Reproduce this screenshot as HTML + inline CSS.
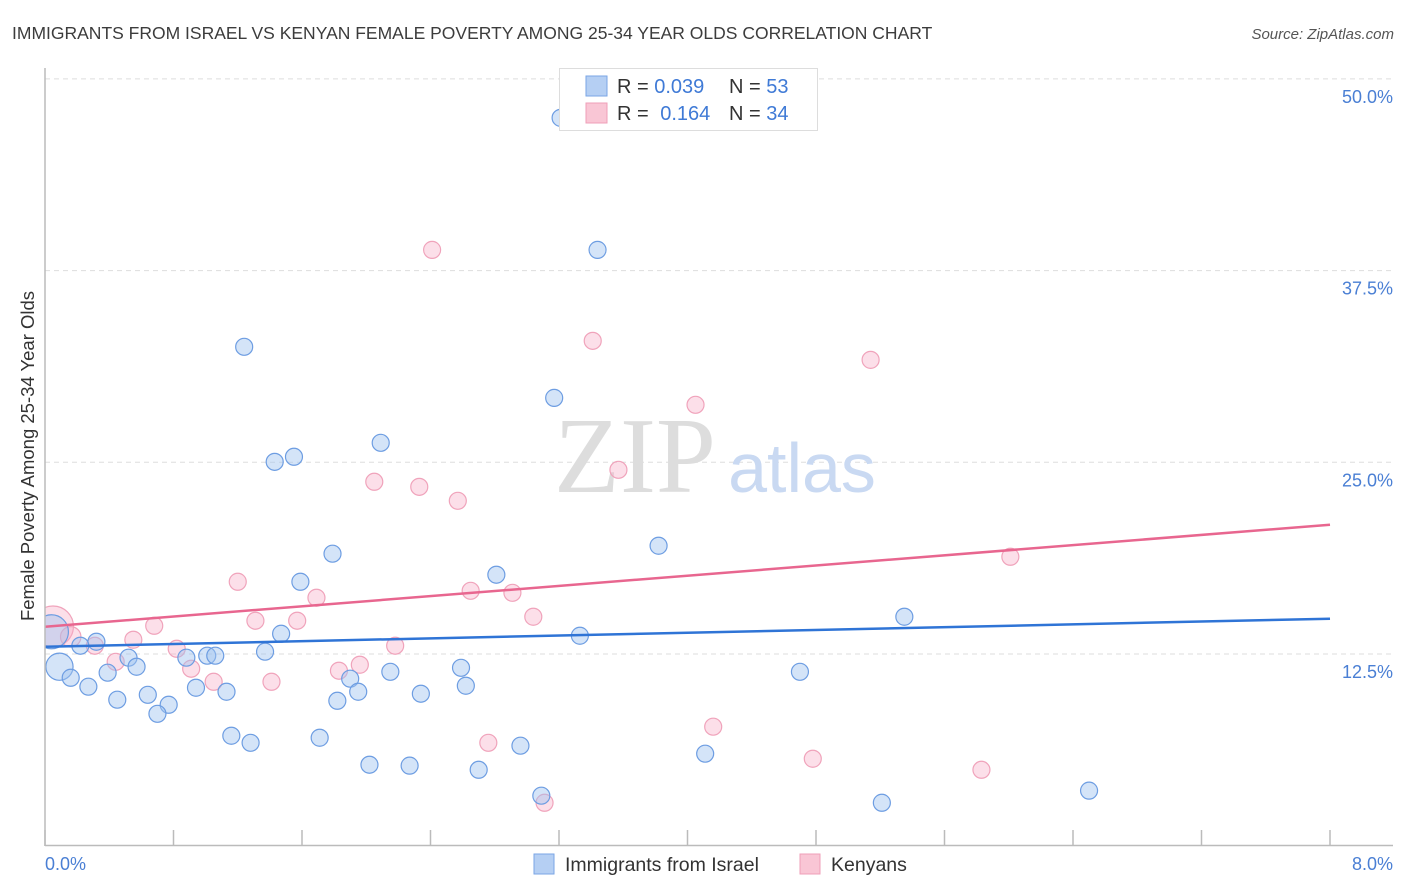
<!DOCTYPE html>
<html><head><meta charset="utf-8"><style>
body{margin:0;background:#fff;font-family:"Liberation Sans",sans-serif;}
svg{display:block}
</style></head><body>
<svg id="chart" width="1406" height="892">
<defs><clipPath id="plotclip"><rect x="45" y="60" width="1360" height="786"/></clipPath></defs>
<text x="12" y="39" font-size="17.5" fill="#3c3c3c">IMMIGRANTS FROM ISRAEL VS KENYAN FEMALE POVERTY AMONG 25-34 YEAR OLDS CORRELATION CHART</text>
<text x="1394" y="39" font-size="15" fill="#555" text-anchor="end" font-style="italic">Source: ZipAtlas.com</text>
<g id="grid"></g>
<text x="635" y="492" font-size="108" font-family="Liberation Serif,serif" fill="#ddd" text-anchor="middle">ZIP</text>
<text x="802" y="492" font-size="70" fill="#c9d9f2" text-anchor="middle">atlas</text>
<g id="xticks"></g>
<g id="yticks"></g>
<g id="pts" clip-path="url(#plotclip)"></g>
<g id="trends"></g>
<line x1="45" y1="68" x2="45" y2="846" stroke="#bbb" stroke-width="1.5"/>
<line x1="45" y1="845.5" x2="1393" y2="845.5" stroke="#bbb" stroke-width="1.5"/>
<text x="34" y="456" font-size="18.5" fill="#333" text-anchor="middle" transform="rotate(-90 34 456)">Female Poverty Among 25-34 Year Olds</text>
<text x="45" y="870" font-size="18" fill="#4a7fd4">0.0%</text>
<text x="1393" y="870" font-size="18" fill="#4a7fd4" text-anchor="end">8.0%</text>
<g>
<rect x="559.5" y="68.5" width="258" height="62" fill="#fff" stroke="#ddd"/>
<rect x="586" y="76" width="21" height="20" fill="#b5cff3" stroke="#7aa6e6"/>
<rect x="586" y="103" width="21" height="20" fill="#f9c6d5" stroke="#ef9fb8"/>
<text x="617" y="93" font-size="20" fill="#333">R = <tspan fill="#3f7ad6">0.039</tspan></text>
<text x="729" y="93" font-size="20" fill="#333">N = <tspan fill="#3f7ad6">53</tspan></text>
<text x="617" y="120" font-size="20" fill="#333">R = <tspan fill="#3f7ad6" dx="6">0.164</tspan></text>
<text x="729" y="120" font-size="20" fill="#333">N = <tspan fill="#3f7ad6">34</tspan></text>
</g>
<g>
<rect x="534" y="854" width="20" height="20" fill="#b5cff3" stroke="#7aa6e6"/>
<text x="565" y="871" font-size="19.5" fill="#333">Immigrants from Israel</text>
<rect x="800" y="854" width="20" height="20" fill="#f9c6d5" stroke="#ef9fb8"/>
<text x="831" y="871" font-size="19.5" fill="#333">Kenyans</text>
</g>
</svg>
<script>
const blueX=[3.21,3.44,1.24,3.17,2.09,1.55,1.43,3.82,1.79,2.81,1.59,5.35,3.33,1.47,0.32,0.22,1.37,0.88,1.01,1.06,0.52,0.57,0.09,0.39,0.16,2.59,2.15,4.70,1.90,0.27,0.94,2.62,1.95,0.64,1.13,2.34,0.45,1.82,0.77,0.70,1.16,1.71,1.28,2.96,4.11,2.02,2.27,2.70,3.09,5.21,6.50,0.04];
const blueY=[47.46,38.85,32.53,29.2,26.27,25.36,25.03,19.56,19.04,17.67,17.21,14.93,13.69,13.82,13.3,13.04,12.65,12.26,12.39,12.39,12.26,11.67,11.67,11.28,10.95,11.6,11.34,11.34,10.89,10.37,10.3,10.43,10.04,9.84,10.04,9.91,9.52,9.45,9.19,8.6,7.17,7.04,6.71,6.52,6.0,5.28,5.22,4.95,3.26,2.8,3.59,13.95];
const blueW=[1,1,1,1,1,1,1,1,1,1,1,1,1,1,1,1,1,1,1,1,1,1,1.6,1,1,1,1,1,1,1,1,1,1,1,1,1,1,1,1,1,1,1,1,1,1,1,1,1,1,1,1,2];
const pinkX=[2.41,3.41,5.14,4.05,2.05,3.57,2.33,2.57,6.01,1.20,2.65,1.69,2.91,0.68,1.31,1.57,3.04,0.55,0.82,0.31,2.18,0.44,0.91,1.96,1.83,1.41,1.05,4.16,2.76,4.78,5.83,3.11,0.05,0.16];
const pinkY=[38.85,32.92,31.68,28.75,23.73,24.51,23.4,22.49,18.84,17.21,16.62,16.17,16.49,14.34,14.67,14.67,14.93,13.43,12.84,13.04,13.04,11.99,11.54,11.8,11.41,10.69,10.69,7.76,6.71,5.67,4.95,2.8,14.3,13.62];
const pinkW=[1,1,1,1,1,1,1,1,1,1,1,1,1,1,1,1,1,1,1,1,1,1,1,1,1,1,1,1,1,1,1,1,2.4,1.2];
const blueTrend=[12.97,14.8];
const pinkTrend=[14.28,20.93];
const yTicks=[12.5,25,37.5,50];
const yTickLabels=["12.5%","25.0%","37.5%","50.0%"];
const xTicks=[0,0.8,1.6,2.4,3.2,4.0,4.8,5.6,6.4,7.2,8.0];
const NS="http://www.w3.org/2000/svg";
const sx=v=>45+v*(1285/8);
const sy=v=>845.7-v*(766.8/50);
function mk(tag,attrs,parent){const e=document.createElementNS(NS,tag);for(const k in attrs)e.setAttribute(k,attrs[k]);document.getElementById(parent).appendChild(e);return e;}
yTicks.forEach((t,i)=>{
 const g=mk('line',{x1:45,x2:1393,y1:sy(t),y2:sy(t),stroke:'#ddd','stroke-dasharray':'5,4'},'grid');
 
 
 const l=mk('text',{x:1393,y:sy(t)+24,'font-size':18,fill:'#4a7fd4','text-anchor':'end'},'yticks');
 l.textContent=yTickLabels[i];
 
 
});
xTicks.forEach(t=>{
 const l=mk('line',{x1:sx(t),x2:sx(t),y1:830,y2:846,stroke:'#bbb','stroke-width':1.5},'xticks');
 
 
});
function pts(X,Y,W,fill,stroke,name){
 X.forEach((x,i)=>{
  const c=mk('circle',{cx:sx(x),cy:sy(Y[i]),r:8.5*W[i],fill:fill,stroke:stroke,'stroke-width':1.2},'pts');
  
  
 });
}
pts(pinkX,pinkY,pinkW,'rgba(246,172,196,0.38)','#f0a3bb','kenyan-point');
pts(blueX,blueY,blueW,'rgba(160,195,240,0.45)','#6d9de2','israel-point');
const bl=mk('line',{x1:sx(0),y1:sy(blueTrend[0]),x2:sx(8),y2:sy(blueTrend[1]),stroke:'#2f74d6','stroke-width':2.5},'trends');


const pl=mk('line',{x1:sx(0),y1:sy(pinkTrend[0]),x2:sx(8),y2:sy(pinkTrend[1]),stroke:'#e8668f','stroke-width':2.5},'trends');


</script>
</body></html>
